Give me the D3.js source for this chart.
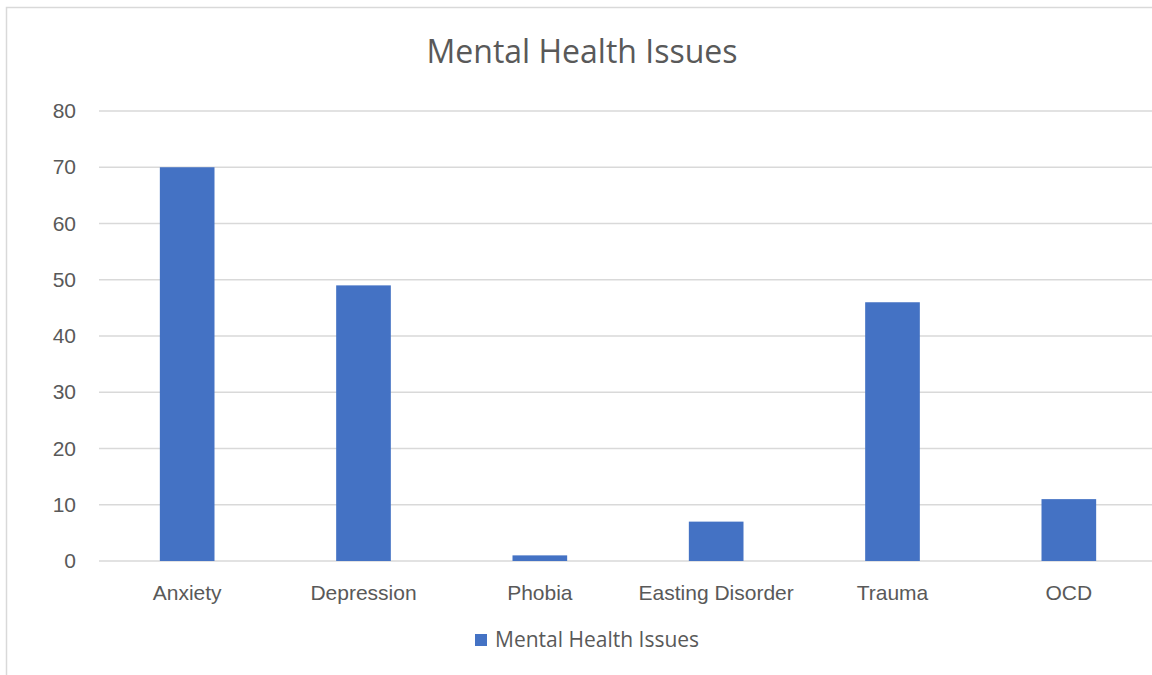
<!DOCTYPE html>
<html>
<head>
<meta charset="utf-8">
<script src="https://cdn.jsdelivr.net/npm/d3@7"></script>
<style>
  body { margin: 0; background: #fff; }
  svg { display: block; font-family: "Open Sans", "Noto Sans", sans-serif; }
</style>
</head>
<body>
<div id="chart"></div>
<script>
const categories = ["Anxiety", "Depression", "Phobia", "Easting Disorder", "Trauma", "OCD"];
const values = [70, 49, 1, 7, 46, 11];
const yTicks = [0, 10, 20, 30, 40, 50, 60, 70, 80];
const seriesName = "Mental Health Issues";

const width = 1152;
const height = 675;
const margins = { top: 111, bottom: 114, left: 99, right: -5 };

const svg = d3
  .select("#chart")
  .append("svg")
  .attr("width", width)
  .attr("height", height);

// chart frame (right and bottom edges fall outside the picture)
svg
  .append("rect")
  .attr("x", 6.5)
  .attr("y", 7.5)
  .attr("width", width + 20)
  .attr("height", height + 20)
  .attr("fill", "none")
  .attr("stroke", "#d9d9d9")
  .attr("stroke-width", 1.5);

const xScale = d3
  .scaleBand()
  .domain(categories)
  .range([margins.left, width - margins.right])
  .paddingInner(0.69)
  .paddingOuter(0.345);

const yScale = d3
  .scaleLinear()
  .domain([0, 80])
  .range([height - margins.bottom, margins.top]);

// gridlines
svg
  .append("g")
  .attr("class", "grid")
  .selectAll("line")
  .data(yTicks)
  .join("line")
  .attr("x1", margins.left)
  .attr("x2", width - margins.right)
  .attr("y1", (d) => yScale(d))
  .attr("y2", (d) => yScale(d))
  .attr("stroke", "#d9d9d9")
  .attr("stroke-width", 1.3);

// y axis labels
const yAxis = d3.axisLeft(yScale).tickValues(yTicks).tickSize(0).tickPadding(0);
svg
  .append("g")
  .attr("class", "axis y-axis")
  .attr("transform", `translate(76,0)`)
  .call(yAxis)
  .call((g) => g.select(".domain").remove())
  .selectAll("text")
  .attr("fill", "#595959")
  .style("font-size", "21px");

// bars
svg
  .selectAll(".bar")
  .data(values)
  .join("rect")
  .attr("class", "bar")
  .attr("x", (d, i) => xScale(categories[i]))
  .attr("width", xScale.bandwidth())
  .attr("y", (d) => yScale(d))
  .attr("height", (d) => yScale(0) - yScale(d))
  .attr("fill", "#4472c4");

// x axis labels
const xAxis = d3.axisBottom(xScale).tickSize(0).tickPadding(0);
svg
  .append("g")
  .attr("class", "axis x-axis")
  .attr("transform", `translate(0,${yScale(0) + 24})`)
  .call(xAxis)
  .call((g) => g.select(".domain").remove())
  .selectAll("text")
  .attr("fill", "#595959")
  .style("font-size", "21px");

// title
svg
  .append("text")
  .attr("x", 582)
  .attr("y", 63)
  .attr("text-anchor", "middle")
  .attr("fill", "#595959")
  .style("font-size", "32px")
  .text(seriesName);

// legend
const legend = svg.append("g").attr("transform", "translate(475,634)");
legend.append("rect").attr("width", 12).attr("height", 12).attr("fill", "#4472c4");
legend
  .append("text")
  .attr("x", 20)
  .attr("y", 6)
  .attr("dy", "0.35em")
  .attr("fill", "#595959")
  .style("font-size", "21px")
  .text(seriesName);
</script>
</body>
</html>
